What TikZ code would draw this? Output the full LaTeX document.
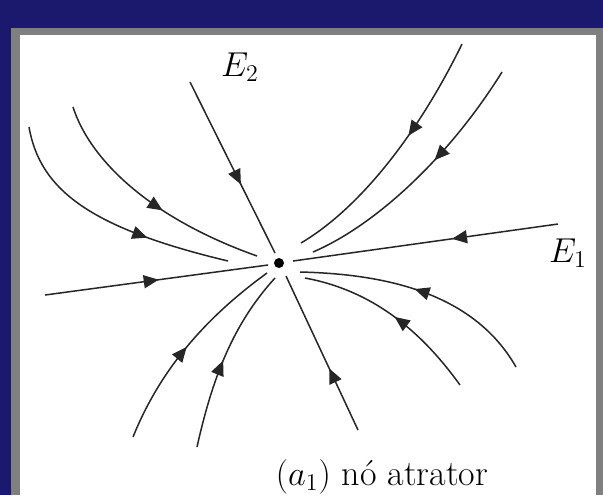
\documentclass[tikz,border=0pt]{standalone}
\usepackage{amsmath}
\usetikzlibrary{arrows.meta,decorations.markings}
\definecolor{slidenavy}{RGB}{27,25,110}
\definecolor{panelgray}{RGB}{128,128,128}
\tikzset{
  flowline/.style={
    draw=black!85,
    line width=0.75pt
  },
  midarrow/.style={
    postaction={decorate},
    decoration={markings,
      mark=at position #1 with {\arrow{Triangle[length=7.5pt,width=6.5pt]}}}
  },
  axislabel/.style={
    font=\fontsize{18}{22}\selectfont,
    anchor=base,
    inner sep=0pt
  }
}

\begin{document}
\begin{tikzpicture}[x=0.5pt,y=-0.5pt]

  % Slide background, grey frame and white panel (pixel grid, y downwards).
  \useasboundingbox (0,0) rectangle (603,495);
  \fill[slidenavy] (0,0) rectangle (603,495);
  \fill[panelgray] (11,28) rectangle (603,495);
  \fill[white] (20,35) rectangle (596,495);
  \clip (20,35) rectangle (596,495);

  % Equilibrium point: every trajectory runs into it.
  \coordinate (O) at (279,263);

  % Eigendirections E_1 and E_2 (straight trajectories).
  \draw[flowline,midarrow=0.60] (190,82) -- (275,253);
  \draw[flowline,midarrow=0.40] (358,430) -- (286,276);
  \draw[flowline,midarrow=0.51] (45,295) -- (268,265);
  \draw[flowline,midarrow=0.40] (558,224) -- (293,261);

  % Curved trajectories, upper left.
  \draw[flowline,midarrow=0.67]
    (29,127) .. controls (40,190) and (90,228) .. (228,261);
  \draw[flowline,midarrow=0.57]
    (73,107) .. controls (90,160) and (150,218) .. (257,256);

  % Curved trajectories, upper right.
  \draw[flowline,midarrow=0.41]
    (462,44) .. controls (418,134) and (360,208) .. (301,243);
  \draw[flowline,midarrow=0.42]
    (502,72) .. controls (449,157) and (376,225) .. (313,252);

  % Curved trajectories, lower right.
  \draw[flowline,midarrow=0.53]
    (516,367) .. controls (475,295) and (390,274) .. (300,272);
  \draw[flowline,midarrow=0.49]
    (460,385) .. controls (419,328) and (370,290) .. (305,278);

  % Curved trajectories, lower left.
  \draw[flowline,midarrow=0.49]
    (133,437) .. controls (160,370) and (205,318) .. (267,273);
  \draw[flowline,midarrow=0.48]
    (197,447) .. controls (212,380) and (232,325) .. (275,278);

  % Node (attractor) drawn last.
  \fill[black] (O) circle[radius=5];

  % Labels.
  \node[axislabel] (e2label) at (240,76) {$E_2$};
  \node[axislabel] (e1label) at (568,262) {$E_1$};
  \node[axislabel] (caption) at (382,485) {$(a_1)$ nó atrator};

\end{tikzpicture}
\end{document}
